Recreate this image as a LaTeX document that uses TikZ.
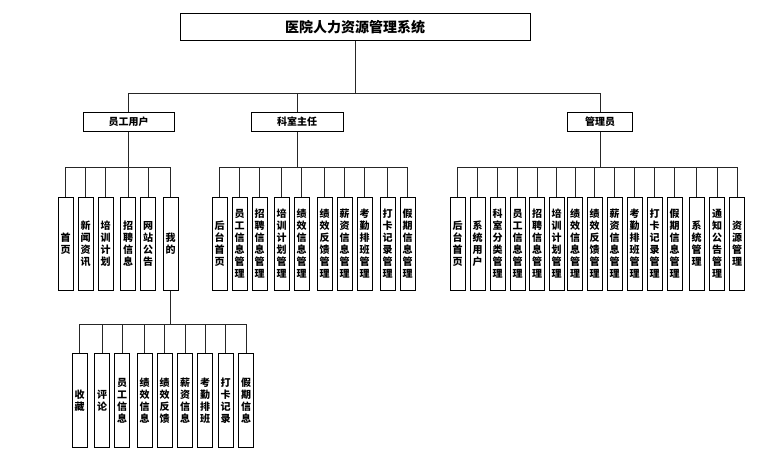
\documentclass[tikz,border=0pt]{standalone}
\usepackage{fontspec}
\newfontfamily\cjk{Noto Sans CJK SC}
\begin{document}
\begin{tikzpicture}[x=1pt,y=-1pt,
  conn/.style={draw=black!85, line width=0.8pt},
  boxbase/.style={draw=black, line width=0.9pt, inner sep=0pt, fill=white},
  titlebox/.style={boxbase, minimum width=350pt, minimum height=27pt, font=\cjk\bfseries\fontsize{14}{16}\selectfont},
  rolebox/.style={boxbase, minimum height=19pt, font=\cjk\bfseries\fontsize{10}{12}\selectfont},
  leaf/.style={boxbase, minimum width=15pt, minimum height=93pt, anchor=north, align=center, font=\cjk\bfseries\fontsize{10}{12}\selectfont},
]
\fill[white] (0,0) rectangle (767,457);
\useasboundingbox (0,0) rectangle (767,457);

% root and the three roles
\node[titlebox] (root) at (355,27) {医院人力资源管理系统};
\node[rolebox, minimum width=91pt] (emp) at (128.5,122) {员工用户};
\node[rolebox, minimum width=92pt] (dir) at (297,122) {科室主任};
\node[rolebox, minimum width=65pt] (adm) at (600,122) {管理员};

\foreach \n in {emp,dir,adm}
  \draw[conn] (root.south) -- ++(0,52) -| (\n.north);

% staff user functions
\foreach \x/\n/\t in {65.5/e1/{首\\页}, 85.5/e2/{新\\闻\\资\\讯}, 105.5/e3/{培\\训\\计\\划},
    128/e4/{招\\聘\\信\\息}, 148/e5/{网\\站\\公\\告}, 170.5/e6/{我\\的}}{
  \node[leaf] (\n) at (\x,197) {\t};
  \draw[conn] (emp.south) -- ++(0,35) -| (\n.north);
}

% "my" sub-functions
\foreach \x/\n/\t in {79.5/m1/{收\\藏}, 102/m2/{评\\论}, 122/m3/{员\\工\\信\\息},
    144.5/m4/{绩\\效\\信\\息}, 164.5/m5/{绩\\效\\反\\馈}, 185/m6/{薪\\资\\信\\息},
    205/m7/{考\\勤\\排\\班}, 225.5/m8/{打\\卡\\记\\录}, 246/m9/{假\\期\\信\\息}}{
  \node[leaf, minimum height=94pt] (\n) at (\x,353) {\t};
  \draw[conn] (e6.south) -- ++(0,33) -| (\n.north);
}

% department head functions
\foreach \x/\n/\t in {219.5/d1/{后\\台\\首\\页}, 239.5/d2/{员\\工\\信\\息\\管\\理},
    259.5/d3/{招\\聘\\信\\息\\管\\理}, 281.5/d4/{培\\训\\计\\划\\管\\理},
    301.5/d5/{绩\\效\\信\\息\\管\\理}, 324.5/d6/{绩\\效\\反\\馈\\管\\理},
    344.5/d7/{薪\\资\\信\\息\\管\\理}, 364.5/d8/{考\\勤\\排\\班\\管\\理},
    387.5/d9/{打\\卡\\记\\录\\管\\理}, 407.5/d10/{假\\期\\信\\息\\管\\理}}{
  \node[leaf] (\n) at (\x,197) {\t};
  \draw[conn] (dir.south) -- ++(0,35) -| (\n.north);
}

% administrator functions
\foreach \x/\n/\t in {457.5/a1/{后\\台\\首\\页}, 477.5/a2/{系\\统\\用\\户},
    497.5/a3/{科\\室\\分\\类\\管\\理}, 517.5/a4/{员\\工\\信\\息\\管\\理},
    537/a5/{招\\聘\\信\\息\\管\\理}, 556.5/a6/{培\\训\\计\\划\\管\\理},
    575/a7/{绩\\效\\信\\息\\管\\理}, 594.5/a8/{绩\\效\\反\\馈\\管\\理},
    614.5/a9/{薪\\资\\信\\息\\管\\理}, 634.5/a10/{考\\勤\\排\\班\\管\\理},
    654.5/a11/{打\\卡\\记\\录\\管\\理}, 674.5/a12/{假\\期\\信\\息\\管\\理},
    696.5/a13/{系\\统\\管\\理}, 717/a14/{通\\知\\公\\告\\管\\理}, 737/a15/{资\\源\\管\\理}}{
  \node[leaf] (\n) at (\x,197) {\t};
  \draw[conn] (adm.south) -- ++(0,35) -| (\n.north);
}
\end{tikzpicture}
\end{document}
